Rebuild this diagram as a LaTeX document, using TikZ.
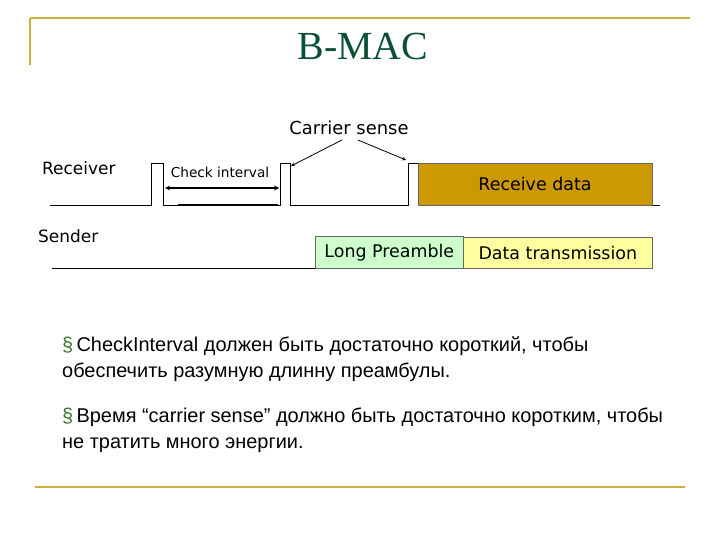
\documentclass[tikz,border=0pt]{standalone}
\usepackage{fontspec}
\setmainfont{Liberation Serif}
\newfontfamily\verd{DejaVu Sans}
\newfontfamily\ari{Liberation Sans}
\begin{document}
\begin{tikzpicture}[x=1bp,y=-1bp,
  sig/.style={line width=0.8bp,black},
  lbl/.style={font=\verd\fontsize{17}{20}\selectfont,inner sep=0},
  boxt/.style={font=\verd\fontsize{17.5}{20}\selectfont,draw=black!60,line width=0.6bp},
  frame/.style={draw={rgb,255:red,200;green,180;blue,60},line width=1.5bp},
  body/.style={font=\ari\fontsize{20}{26}\selectfont,anchor=north west,align=left,inner sep=0}]
\useasboundingbox (0,0) rectangle (720,540);
\fill[white] (0,0) rectangle (720,540);
\draw[frame] (30,18) -- (690,18);
\draw[frame] (30,18) -- (30,65);
\draw[frame] (35,487) -- (685,487);
\node[font=\fontsize{40}{44}\selectfont,text={rgb,255:red,10;green,80;blue,50}] (title) at (363,47) {B-MAC};
% receiver signal
\draw[sig] (50,205) -- (151,205) -- (151,163) -- (163,163) -- (163,205) -- (280,205) -- (280,163) -- (290,163) -- (290,205) -- (408,205) -- (408,163) -- (418,163);
\draw[sig] (652,205) -- (660,205);
\draw[line width=1.8bp] (178,205) -- (278,205);
\node[draw=black!60,fill={rgb,255:red,204;green,153;blue,0},minimum width=234bp,minimum height=42bp,anchor=north west,inner sep=0] (rd) at (418,163) {};
\node[font=\verd\fontsize{17.5}{20}\selectfont] at (535,184) {Receive data};
\node[lbl,font=\verd\fontsize{13.7}{16}\selectfont] (ci) at (220,172) {Check interval};
\coordinate (ca) at (165,188);
\coordinate (cb) at (279,188);
\draw[line width=1.2bp,<->,>=stealth] (ca) -- (cb);
\node[lbl,font=\verd\fontsize{18}{20}\selectfont] (cs) at (349,128) {Carrier sense};
\coordinate (p2) at (291,166);
\coordinate (p3) at (406,160);
\draw[line width=0.8bp,->,>=stealth] (342,140) -- (p2);
\draw[line width=0.8bp,->,>=stealth] (358,140) -- (p3);
\node[lbl,anchor=west] (rcv) at (42,168) {Receiver};
\node[lbl,anchor=west] (snd) at (38,236) {Sender};
% sender
\draw[sig] (52,268) -- (315,268);
\node[boxt,fill={rgb,255:red,204;green,255;blue,204},minimum width=148bp,minimum height=32bp,anchor=north west,inner sep=0] (lp) at (315,236) {Long Preamble};
\node[boxt,fill={rgb,255:red,255;green,255;blue,160},minimum width=189bp,minimum height=31bp,anchor=north west,inner sep=0] (dt) at (463,237) {Data transmission};
% bullets
\node[body] (b1) at (62,337) {{\color[rgb]{0.25,0.45,0.2}\S}\,CheckInterval должен быть достаточно короткий, чтобы\\обеспечить разумную длинну преамбулы.};
\node[body] (b2) at (62,408) {{\color[rgb]{0.25,0.45,0.2}\S}\,Время “carrier sense” должно быть достаточно коротким, чтобы\\не тратить много энергии.};
\end{tikzpicture}
\end{document}
